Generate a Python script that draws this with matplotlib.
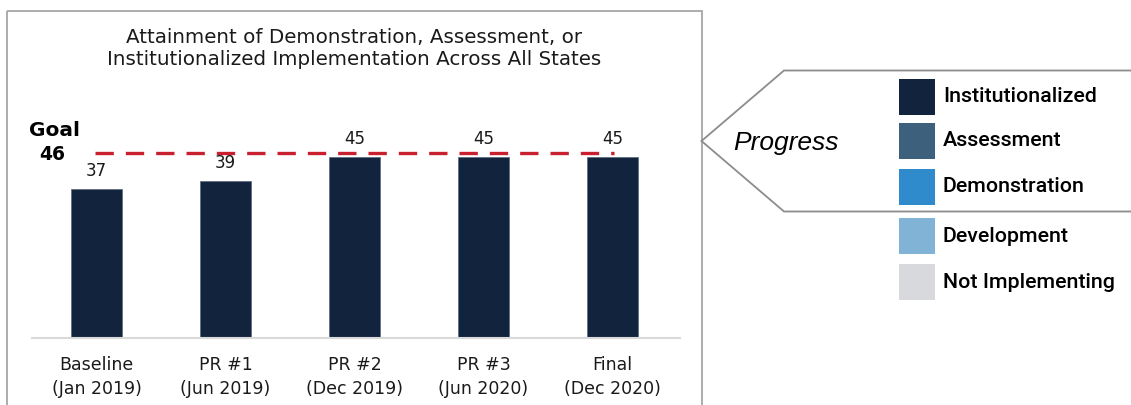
import matplotlib
matplotlib.use("Agg")
import matplotlib.pyplot as plt
from matplotlib.patches import Rectangle

# ---- data ----
categories = ["Baseline\n(Jan 2019)", "PR #1\n(Jun 2019)", "PR #2\n(Dec 2019)",
              "PR #3\n(Jun 2020)", "Final\n(Dec 2020)"]
values = [37, 39, 45, 45, 45]
goal = 46
title = "Attainment of Demonstration, Assessment, or\nInstitutionalized Implementation Across All States"
legend_labels = ["Institutionalized", "Assessment", "Demonstration", "Development", "Not Implementing"]
legend_colors = ["#12243d", "#3d617c", "#2f8bcc", "#80b3d6", "#d8d9dc"]

W, H = 1131, 405
fig = plt.figure(figsize=(W / 100, H / 100), dpi=100)
chart_font = "DejaVu Sans"
legend_font = "Roboto"

# main bar axes
px_per_unit = 4.02
bottom_px, top_px = 338, 100
left_px, right_px = 32, 680
ax = fig.add_axes([left_px / W, 1 - bottom_px / H, (right_px - left_px) / W,
                   (bottom_px - top_px) / H])
ax.patch.set_visible(False)
x = list(range(len(values)))
ax.bar(x, values, width=0.395, color=legend_colors[0], edgecolor="#5f6f82", linewidth=0.6, zorder=2)
ax.set_xlim(-0.5, (right_px - 96.5) / 129)
ax.set_ylim(0, (bottom_px - top_px) / px_per_unit)
ax.plot([-0.01, 4.01], [goal, goal], color="#c8202f", lw=2.4, dashes=(5.5, 3.6), zorder=3)
for xi, v in zip(x, values):
    ax.text(xi, v + 4.6, str(v), ha="center", va="center", fontsize=12,
            family=chart_font, color="#1a1a1a", zorder=4)
for s in ["top", "right", "left"]:
    ax.spines[s].set_visible(False)
ax.spines["bottom"].set_color("#d9d9d9")
ax.spines["bottom"].set_linewidth(1.5)
ax.set_yticks([])
ax.set_xticks(x)
ax.set_xticklabels(categories, fontsize=12.5, family=chart_font, color="#1a1a1a", linespacing=1.4)
ax.tick_params(axis="x", length=0, pad=13)

# overlay axes in pixel coordinates
ov = fig.add_axes([0, 0, 1, 1])
ov.patch.set_visible(False)
ov.set_xlim(0, W)
ov.set_ylim(H, 0)
ov.axis("off")

# chart box
ov.add_patch(Rectangle((7, 10.5), 695, 420, fill=False, edgecolor="#a6a6a6", lw=1.3))

# arrow shape
ov.plot([1131, 784, 701.5, 784, 1131], [70.5, 70.5, 141, 211.5, 211.5],
        color="#8c8c8c", lw=1.3, solid_joinstyle="miter")

# title
ov.text(354, 48.5, title, ha="center", va="center", fontsize=14.3,
        family=chart_font, color="#1a1a1a", linespacing=1.25)

# goal label
ov.text(55, 130, "Goal", ha="center", va="center", fontsize=14.5, fontweight="bold",
        family=chart_font, color="black")
ov.text(52, 155, str(goal), ha="center", va="center", fontsize=13.5, fontweight="bold",
        family=chart_font, color="black")

# Progress
ov.text(786, 143, "Progress", ha="center", va="center", fontsize=19, style="italic",
        family="Liberation Sans", color="black")

# legend
ys = [96.5, 141, 186.5, 236, 282]
for lab, col, yc in zip(legend_labels, legend_colors, ys):
    ov.add_patch(Rectangle((899, yc - 18), 36, 36, facecolor=col, edgecolor="none"))
    ov.text(943, yc, lab, ha="left", va="center", fontsize=15.4, family=legend_font,
            fontweight="medium", color="black")

fig.savefig("out.png", dpi=100)
